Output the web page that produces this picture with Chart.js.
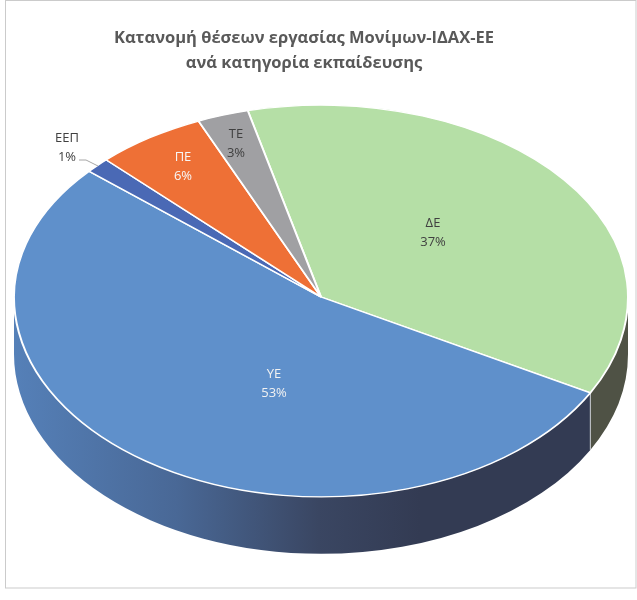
<!DOCTYPE html>
<html>
<head>
<meta charset="utf-8">
<title>Κατανομή θέσεων εργασίας</title>
<script src="https://cdn.jsdelivr.net/npm/chart.js@4"></script>
<style>
  html, body { margin: 0; padding: 0; background: #fff; }
  canvas { display: block; }
</style>
</head>
<body>
<canvas id="pie" width="637" height="600"></canvas>
<script>
// Chart data
const titleLines = ['Κατανομή θέσεων εργασίας Μονίμων-ΙΔΑΧ-ΕΕ', 'ανά κατηγορία εκπαίδευσης'];
const categories = ['ΔΕ', 'ΥΕ', 'ΕΕΠ', 'ΠΕ', 'ΤΕ'];
const shares = [36.8, 53.4, 1.3, 5.8, 2.7];
const sliceColors = ['#b5dfa6', '#5f90cb', '#4a69b5', '#ee7036', '#a0a0a3'];
const labelColors = ['#404040', '#f2f2f2', '#404040', '#f7f7f7', '#404040'];

// Look of the tilted pie
const FONT = '"Open Sans", sans-serif';
const pieCentre = { x: 321, y: 297 };
const topSquash = 0.625;
const bottomSquash = 0.651;
const rimDepth = 57;
const labelSpots = { 'ΔΕ': [433, 232], 'ΥΕ': [274, 383], 'ΕΕΠ': [67, 147], 'ΠΕ': [183, 166], 'ΤΕ': [236, 143] };

// Moves the round pie on to the tilted ellipse
function tilt(ctx, arc, squash) {
  ctx.translate(pieCentre.x, pieCentre.y);
  ctx.scale(1, squash);
  ctx.translate(-arc.x, -arc.y);
}

function rimFill(ctx, index) {
  if (index === 0) return '#4f5245';
  const g = ctx.createLinearGradient(14, 0, 420, 0);
  g.addColorStop(0, '#5580b8');
  g.addColorStop(0.4, '#496896');
  g.addColorStop(0.75, '#3a4662');
  g.addColorStop(1, '#333b53');
  return g;
}

const tiltedPie = {
  id: 'tiltedPie',
  beforeDraw(chart) {
    // thin frame round the whole chart
    const ctx = chart.ctx;
    ctx.save();
    ctx.strokeStyle = '#cbcbcb';
    ctx.lineWidth = 1;
    ctx.strokeRect(5.5, 0.5, 630.5, 587.5);
    ctx.restore();
  },
  beforeDatasetDraw(chart, args) {
    const ctx = chart.ctx;
    const meta = args.meta;
    const arcs = meta.data;

    // rim below the front edge
    arcs.forEach((arc, i) => {
      const a = Math.max(arc.startAngle, 0);
      const b = Math.min(arc.endAngle, Math.PI);
      if (b <= a) return;
      const ry = arc.outerRadius * bottomSquash;
      ctx.save();
      ctx.beginPath();
      ctx.ellipse(pieCentre.x, pieCentre.y, arc.outerRadius, ry, 0, a, b);
      ctx.ellipse(pieCentre.x, pieCentre.y + rimDepth, arc.outerRadius, ry, 0, b, a, true);
      ctx.closePath();
      ctx.fillStyle = rimFill(ctx, i);
      ctx.fill();
      ctx.restore();
    });

    // seam between the two rim colours
    const seam = arcs[0];
    const sx = pieCentre.x + seam.outerRadius * Math.cos(seam.endAngle);
    const sy = pieCentre.y + seam.outerRadius * bottomSquash * Math.sin(seam.endAngle);
    ctx.save();
    ctx.strokeStyle = '#c9ccd0';
    ctx.lineWidth = 1;
    ctx.beginPath();
    ctx.moveTo(sx, sy);
    ctx.lineTo(sx, sy + rimDepth);
    ctx.stroke();
    ctx.restore();

    // top face: back half and front half are squashed a little differently
    ctx.save();
    ctx.beginPath();
    ctx.rect(0, 0, chart.width, pieCentre.y + 0.5);
    ctx.clip();
    tilt(ctx, arcs[0], topSquash);
    meta.controller.draw();
    ctx.restore();

    ctx.save();
    ctx.beginPath();
    ctx.rect(0, pieCentre.y, chart.width, chart.height - pieCentre.y);
    ctx.clip();
    tilt(ctx, arcs[0], bottomSquash);
    meta.controller.draw();
    ctx.restore();
    return false;
  },
  afterDatasetsDraw(chart) {
    const ctx = chart.ctx;
    const total = shares.reduce((sum, v) => sum + v, 0);
    ctx.save();

    // leader line of the smallest slice
    ctx.strokeStyle = '#a6a6a6';
    ctx.lineWidth = 1;
    ctx.beginPath();
    ctx.moveTo(79, 160);
    ctx.lineTo(86, 160);
    ctx.lineTo(98, 166);
    ctx.stroke();

    ctx.font = '13px ' + FONT;
    ctx.textAlign = 'center';
    ctx.textBaseline = 'middle';
    categories.forEach((name, i) => {
      const [x, y] = labelSpots[name];
      ctx.fillStyle = labelColors[i];
      ctx.fillText(name, x, y - 9);
      ctx.fillText(Math.round(shares[i] / total * 100) + '%', x, y + 10);
    });
    ctx.restore();
  }
};

new Chart(document.getElementById('pie'), {
  type: 'pie',
  data: {
    labels: categories,
    datasets: [{
      data: shares,
      backgroundColor: sliceColors,
      borderColor: '#ffffff',
      borderWidth: 2,
      radius: 307,
      rotation: -13.8,
      clip: false
    }]
  },
  options: {
    responsive: false,
    animation: false,
    layout: { padding: { right: 29 } },
    plugins: {
      legend: { display: false },
      tooltip: { enabled: false },
      title: {
        display: true,
        text: titleLines,
        color: '#595959',
        font: { family: FONT, size: 16.5, weight: 'bold', lineHeight: 1.5 },
        padding: { top: 26, bottom: 10 }
      }
    }
  },
  plugins: [tiltedPie]
});
</script>
</body>
</html>
